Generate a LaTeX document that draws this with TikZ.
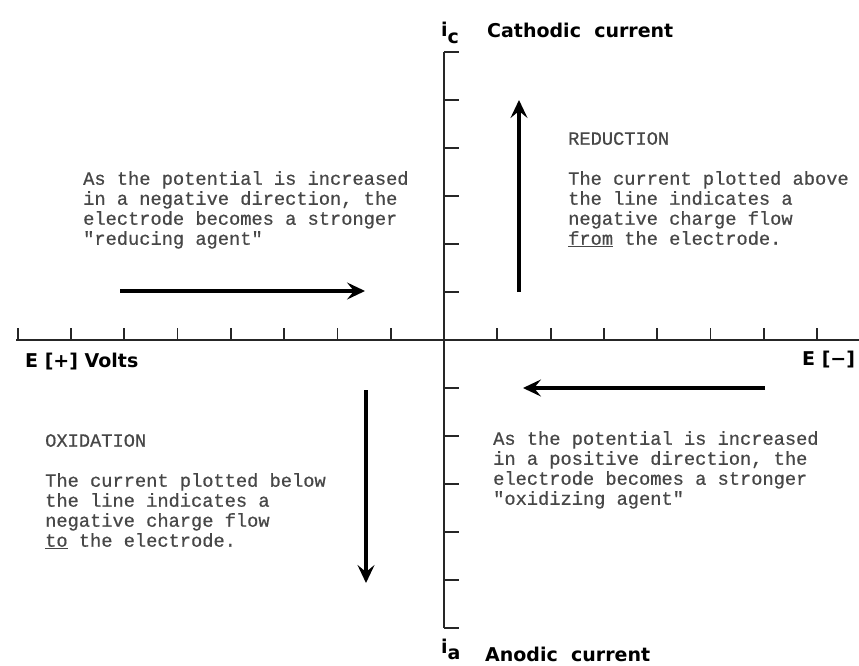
\documentclass[tikz,border=0pt]{standalone}
\usepackage{fontspec}
\setmainfont{DejaVu Sans}
\newfontfamily\typefont[FakeBold=0.6]{Liberation Mono}
\usepackage{tikz}
\usetikzlibrary{arrows.meta}

\begin{document}
\begin{tikzpicture}[x=1pt, y=-1pt, every text node part/.style={align=left}]
        \tikzset{
          axisline/.style={line width=2pt, black!85},
          tickline/.style={line width=1.8pt, black!85},
          bigarrow/.style={line width=3.2pt, -{Stealth[length=18pt,width=17pt,inset=7pt]}},
          notetext/.style={inner sep=0pt, anchor=north west, text=black!72,
                           font=\typefont\fontsize{18.7}{20}\selectfont},
          axislabel/.style={inner sep=0pt, anchor=west,
                            font=\bfseries\fontsize{19}{22}\selectfont},
        }
        \path[use as bounding box, fill=white] (0,0) rectangle (859,666);
        % axes
        \coordinate (ctop) at (444,52);
        \coordinate (cbottom) at (444,628);
        \coordinate (eleft) at (16,340);
        \coordinate (eright) at (859,340);
        \draw[axisline] (ctop) -- (cbottom);
        \draw[axisline] (eleft) -- (eright);
        \foreach \k in {1,...,6} {
          \draw[tickline] (444,340-48*\k) -- ++(15,0);
          \draw[tickline] (444,340+48*\k) -- ++(15,0);
        }
        \foreach \k in {1,...,8}
          \draw[tickline] (444-53.3*\k,340) -- ++(0,-12);
        \foreach \k in {1,...,7}
          \draw[tickline] (444+53.3*\k,340) -- ++(0,-12);
        % axis labels
        \node[axislabel] (ic) at (441,33) {i\raisebox{-7pt}{c}};
        \node[axislabel] (cathodic) at (487,30) {Cathodic\ \ current};
        \node[axislabel] (ia) at (441,649) {i\raisebox{-6pt}{a}};
        \node[axislabel] (anodic) at (485,654) {Anodic\ \ current};
        \node[axislabel] (eplus) at (25,362) {E [+] Volts};
        \node[axislabel] (eminus) at (802,360) {E [−]};
        % 
        \node[notetext] (negtext) at (83,171) {As the potential is increased\\in a negative direction, the\\electrode becomes a stronger\\"reducing agent"};
        \node[notetext] (redtext) at (568,132) {REDUCTION\\[20pt]The current plotted above\\the line indicates a\\negative charge flow\\\underline{from} the electrode.};
        \node[notetext] (oxtext) at (45,434) {OXIDATION\\[20pt]The current plotted below\\the line indicates a\\negative charge flow\\\underline{to} the electrode.};
        \node[notetext] (postext) at (493,431) {As the potential is increased\\in a positive direction, the\\electrode becomes a stronger\\"oxidizing agent"};
        % 
        \coordinate (negtail) at (120,291);
        \coordinate (neghead) at (365,291);
        \coordinate (redtail) at (519,292);
        \coordinate (redhead) at (519,100);
        \coordinate (postail) at (765,388);
        \coordinate (poshead) at (523,388);
        \coordinate (oxtail) at (366,390);
        \coordinate (oxhead) at (366,583);
        \draw[bigarrow] (negtail) -- (neghead);
        \draw[bigarrow] (redtail) -- (redhead);
        \draw[bigarrow] (postail) -- (poshead);
        \draw[bigarrow] (oxtail) -- (oxhead);
    \end{tikzpicture}
\end{document}
